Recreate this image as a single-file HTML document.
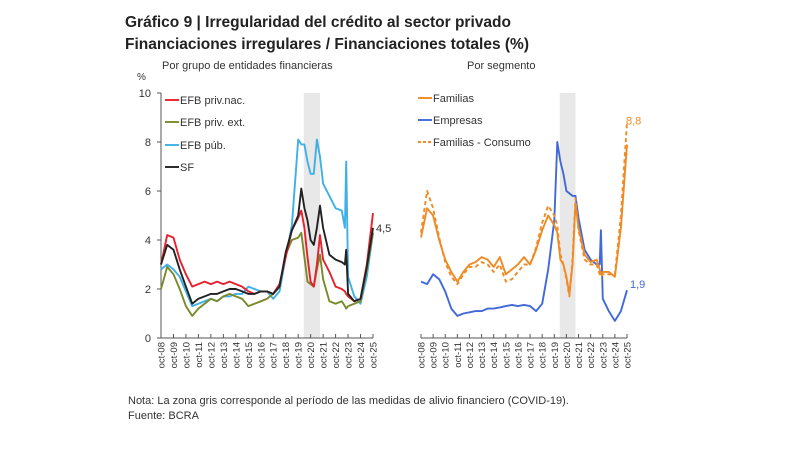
<!DOCTYPE html>
<html><head><meta charset="utf-8"><style>
body{margin:0;background:#fff;width:800px;height:450px;overflow:hidden;font-family:"Liberation Sans",sans-serif}
svg text{font-family:"Liberation Sans",sans-serif}
</style></head><body>
<svg id="c" width="800" height="450">
<text x="125" y="27" font-size="15.5" font-weight="bold" fill="#222">Gráfico 9 | Irregularidad del crédito al sector privado</text>
<text x="125" y="49" font-size="15.5" font-weight="bold" fill="#222">Financiaciones irregulares / Financiaciones totales (%)</text>
<text x="162" y="69" font-size="11" fill="#333">Por grupo de entidades financieras</text>
<text x="467" y="69" font-size="11" fill="#333">Por segmento</text>
<text x="137" y="80" font-size="10" fill="#333">%</text>
<text x="128" y="404" font-size="11" fill="#333">Nota: La zona gris corresponde al período de las medidas de alivio financiero (COVID-19).</text>
<text x="128" y="419" font-size="11" fill="#333">Fuente: BCRA</text>
</svg>
<script>
const dates=[2008.75,2009.25,2009.75,2010.25,2010.75,2011.25,2011.75,2012.25,2012.75,2013.25,2013.75,2014.25,2014.75,2015.25,2015.75,2016.25,2016.75,2017.25,2017.75,2018.25,2018.75,2019.25,2019.75,2020.0,2020.25,2020.5,2020.75,2021.0,2021.25,2021.5,2021.75,2022.25,2022.75,2023.25,2023.5,2023.6,2023.75,2024.25,2024.75,2025.25,2025.75];
const privNac=[3.0,4.2,4.1,3.2,2.6,2.1,2.2,2.3,2.2,2.3,2.2,2.3,2.2,2.1,1.9,1.8,1.9,1.9,1.8,2.2,3.3,4.4,4.9,5.2,4.5,3.3,2.3,2.1,3.0,4.2,3.2,2.7,2.1,2.0,1.9,1.8,1.7,1.5,1.6,3.0,5.1];
const privExt=[2.0,2.9,2.6,2.0,1.3,0.9,1.2,1.4,1.6,1.5,1.7,1.8,1.7,1.6,1.3,1.4,1.5,1.6,1.8,2.1,3.4,4.0,4.1,4.3,3.3,2.3,2.2,2.1,2.8,3.4,2.4,1.5,1.4,1.5,1.3,1.2,1.3,1.4,1.5,2.8,4.3];
const pub=[2.8,3.0,2.8,2.5,1.9,1.3,1.4,1.5,1.6,1.5,1.7,1.7,1.8,1.8,2.1,2.0,1.9,1.9,1.6,1.9,3.3,4.6,8.1,7.9,7.9,7.2,6.7,6.7,8.1,7.4,6.3,5.8,5.3,5.2,4.5,7.2,2.5,1.7,1.4,2.5,4.3];
const sf=[3.0,3.8,3.6,2.8,2.1,1.4,1.6,1.7,1.8,1.8,1.9,2.0,2.0,1.9,1.8,1.8,1.9,1.9,1.8,2.1,3.5,4.4,5.0,6.1,5.3,4.8,4.0,3.8,4.5,5.4,4.5,3.4,3.2,3.1,3.0,3.6,1.8,1.5,1.6,2.9,4.5];
const familias=[4.1,5.3,5.0,4.0,3.2,2.7,2.3,2.7,3.0,3.1,3.3,3.2,2.9,3.3,2.6,2.8,3.0,3.3,3.0,3.6,4.4,5.0,4.6,4.3,3.2,3.0,2.5,1.8,3.0,5.5,4.5,3.4,3.1,3.2,2.8,2.6,2.7,2.7,2.5,4.5,7.9];
const consumo=[4.3,6.0,5.3,4.1,3.1,2.5,2.2,2.6,2.9,2.9,3.1,3.0,2.7,3.0,2.3,2.4,2.7,3.0,3.0,3.7,4.7,5.4,5.0,4.6,3.4,3.0,2.4,1.7,3.2,5.7,4.4,3.2,3.0,3.0,2.6,2.5,2.6,2.6,2.6,5.0,8.8];
const empresas=[2.3,2.2,2.6,2.4,1.9,1.2,0.9,1.0,1.05,1.1,1.1,1.2,1.2,1.25,1.3,1.35,1.3,1.35,1.3,1.1,1.4,2.8,4.8,8.0,7.2,6.7,6.0,5.9,5.8,5.8,4.9,3.6,3.2,3.0,3.0,4.4,1.6,1.1,0.7,1.1,1.95];
const yTicks=[0,2,4,6,8,10];
const tickYears=[2008,2009,2010,2011,2012,2013,2014,2015,2016,2017,2018,2019,2020,2021,2022,2023,2024,2025];
const shade=[2020.2,2021.5];

const NS="http://www.w3.org/2000/svg",svg=document.getElementById('c');
function mk(t,a,parent){const e=document.createElementNS(NS,t);for(const k in a)e.setAttribute(k,a[k]);(parent||svg).appendChild(e);return e;}
const yS=v=>338-v*24.5;
function panel(x0,x1,pre){
  const xS=t=>x0+(t-2008.75)*(x1-x0)/17;
  let r=mk('rect',{x:xS(shade[0]),y:yS(10),width:xS(shade[1])-xS(shade[0]),height:yS(0)-yS(10),fill:'#e8e8e8'});
  
  
  let ax=mk('line',{x1:x0,x2:x1,y1:338,y2:338,stroke:'#555','stroke-width':1});
  
  
  tickYears.forEach(y=>{
    const x=xS(y+0.75);
    mk('line',{x1:x,x2:x,y1:334,y2:338,stroke:'#555'});
    const t=mk('text',{x:0,y:0,'font-size':9.5,fill:'#333','text-anchor':'end',transform:`translate(${x+3.5},342) rotate(-90)`});
    t.textContent='oct-'+String(y%100).padStart(2,'0');
    
    
  });
  return xS;
}
function line(xS,vals,color,name,dash,w){
  const d=vals.map((v,i)=>(i?'L':'M')+xS(dates[i]).toFixed(1)+','+yS(v).toFixed(1)).join('');
  const p=mk('path',{d,fill:'none',stroke:color,'stroke-width':w||1.9,'stroke-dasharray':dash||'none','stroke-linejoin':'round'});
  
  
}
function legend(x,y,color,label,name,dash){
  mk('line',{x1:x,x2:x+14,y1:y-4,y2:y-4,stroke:color,'stroke-width':1.9,'stroke-dasharray':dash||'none'});
  const t=mk('text',{x:x+15,y:y,'font-size':11,fill:'#333'});t.textContent=label;
  
  
}
const xL=panel(161,373,'left');
let ya=mk('line',{x1:161,x2:161,y1:yS(10),y2:338,stroke:'#555'});


yTicks.forEach(v=>{mk('line',{x1:157,x2:161,y1:yS(v),y2:yS(v),stroke:'#555'});
  const t=mk('text',{x:151,y:yS(v)+4,'font-size':11,fill:'#333','text-anchor':'end'});t.textContent=v;
  
  });
line(xL,pub,'#3fb0e6','series-efb-pub');
line(xL,privExt,'#7a8a2a','series-efb-priv-ext');
line(xL,privNac,'#e8202e','series-efb-priv-nac');
line(xL,sf,'#222','series-sf');
legend(165,104,'#e8202e','EFB priv.nac.','legend-efb-priv-nac');
legend(165,126,'#7a8a2a','EFB priv. ext.','legend-efb-priv-ext');
legend(165,149,'#3fb0e6','EFB púb.','legend-efb-pub');
legend(165,171,'#222','SF','legend-sf');
let l1=mk('text',{x:376,y:yS(4.5)+4,'font-size':11,fill:'#333'});l1.textContent='4,5';


const xR=panel(421,627,'right');
line(xR,empresas,'#4169d8','series-empresas');
line(xR,familias,'#f08a24','series-familias');
line(xR,consumo,'#f08a24','series-familias-consumo','4,3');
legend(418,102,'#f08a24','Familias','legend-familias');
legend(418,124,'#4169d8','Empresas','legend-empresas');
legend(418,146,'#f08a24','Familias - Consumo','legend-familias-consumo','3,2');
let l2=mk('text',{x:626,y:yS(8.8)+2,'font-size':11,fill:'#f08a24'});l2.textContent='8,8';


let l3=mk('text',{x:630,y:yS(1.95)-2,'font-size':11,fill:'#4169d8'});l3.textContent='1,9';


</script>
</body></html>
